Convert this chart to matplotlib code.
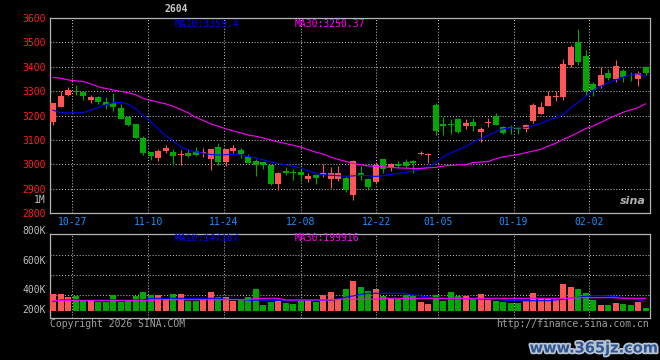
import matplotlib
matplotlib.use("Agg")
import matplotlib.pyplot as plt
import matplotlib.patheffects as pe
import matplotlib.transforms as mtrans
import numpy as np

# ---- data (80 trading days) ----
opens = [3172, 3234, 3286, 3301, 3298, 3263, 3275, 3257, 3250, 3229,
         3192, 3167, 3106, 3050, 3025, 3055, 3052, 3038, 3048, 3055,
         3048, 3023, 3072, 3010, 3055, 3057, 3030, 3014, 3010, 2997,
         2919, 2973, 2969, 2969, 2939, 2955, 2955, 2939, 2939, 2942,
         2874, 2964, 2939, 2928, 3021, 2987, 3000, 3010, 3014, 3044,
         3037, 3245, 3167, 3167, 3184, 3157, 3172, 3132, 3168, 3200,
         3154, 3152, 3150, 3146, 3177, 3208, 3241, 3277, 3276, 3408,
         3502, 3445, 3331, 3323, 3374, 3350, 3384, 3360, 3350, 3397]
highs = [3253, 3302, 3317, 3327, 3302, 3286, 3279, 3274, 3293, 3249,
         3196, 3167, 3116, 3052, 3064, 3078, 3061, 3057, 3064, 3072,
         3065, 3061, 3089, 3061, 3078, 3068, 3041, 3021, 3010, 3000,
         2970, 2987, 2980, 2980, 2964, 2960, 3000, 2987, 2993, 2950,
         3018, 2993, 2942, 3010, 3021, 3007, 3014, 3021, 3018, 3055,
         3048, 3250, 3195, 3184, 3189, 3187, 3188, 3154, 3189, 3211,
         3157, 3159, 3157, 3167, 3252, 3257, 3299, 3299, 3431, 3489,
         3555, 3469, 3336, 3397, 3391, 3429, 3391, 3378, 3381, 3401]
lows = [3159, 3234, 3279, 3286, 3263, 3250, 3248, 3225, 3218, 3184,
        3155, 3106, 3038, 3018, 3014, 3048, 2997, 2997, 3028, 3034,
        3028, 2977, 2996, 2991, 3046, 3024, 3006, 2953, 2980, 2915,
        2895, 2955, 2936, 2930, 2926, 2919, 2946, 2902, 2932, 2887,
        2853, 2935, 2894, 2925, 2966, 2973, 2983, 2983, 2966, 3037,
        3007, 3119, 3119, 3123, 3127, 3143, 3138, 3091, 3154, 3159,
        3123, 3123, 3123, 3132, 3170, 3208, 3238, 3258, 3265, 3399,
        3407, 3286, 3282, 3313, 3344, 3336, 3336, 3340, 3323, 3367]
closes = [3253, 3278, 3303, 3296, 3279, 3276, 3257, 3244, 3234, 3184,
          3163, 3106, 3045, 3034, 3053, 3066, 3032, 3041, 3034, 3037,
          3051, 3061, 3010, 3061, 3068, 3044, 3006, 2997, 2997, 2919,
          2966, 2963, 2963, 2955, 2950, 2942, 2964, 2964, 2964, 2895,
          3014, 2955, 2908, 2996, 2980, 3000, 2993, 2993, 3004, 3048,
          3041, 3136, 3155, 3159, 3132, 3170, 3157, 3143, 3172, 3162,
          3130, 3148, 3146, 3159, 3245, 3236, 3282, 3281, 3412, 3483,
          3420, 3299, 3306, 3367, 3354, 3404, 3358, 3356, 3374, 3374]
ma10 = [3222, 3211, 3211, 3211, 3211, 3222, 3233, 3244, 3252, 3254,
        3246, 3228, 3200, 3175, 3145, 3118, 3095, 3072, 3058, 3051,
        3046, 3040, 3038, 3039, 3041, 3037, 3032, 3026, 3018, 3010,
        3003, 2998, 2991, 2986, 2973, 2963, 2957, 2955, 2953, 2951,
        2952, 2955, 2953, 2950, 2953, 2958, 2963, 2967, 2971, 2980,
        2988, 3005, 3030, 3046, 3058, 3072, 3089, 3105, 3118, 3133,
        3145, 3149, 3150, 3150, 3158, 3167, 3180, 3191, 3204, 3230,
        3254, 3278, 3302, 3320, 3334, 3346, 3357, 3366, 3372, 3359]
ma30 = [3356, 3353, 3346, 3342, 3340, 3330, 3318, 3311, 3305, 3299,
        3293, 3286, 3270, 3262, 3255, 3248, 3238, 3225, 3211, 3193,
        3180, 3166, 3156, 3146, 3137, 3129, 3120, 3115, 3108, 3100,
        3092, 3085, 3078, 3071, 3060, 3050, 3042, 3030, 3020, 3012,
        3004, 2998, 2993, 2991, 2990, 2987, 2985, 2984, 2983, 2983,
        2985, 2987, 2992, 2996, 2997, 2998, 3007, 3009, 3011, 3022,
        3030, 3035, 3040, 3047, 3054, 3061, 3074, 3086, 3101, 3115,
        3130, 3146, 3157, 3171, 3186, 3200, 3213, 3223, 3232, 3248]
volume = [170, 170, 137, 150, 110, 110, 93, 93, 160, 93,
          110, 150, 193, 160, 160, 120, 170, 170, 100, 100,
          110, 193, 137, 137, 103, 120, 137, 220, 60, 93,
          103, 83, 67, 110, 110, 93, 160, 193, 117, 220,
          300, 240, 200, 220, 153, 120, 120, 160, 153, 93,
          70, 160, 100, 190, 153, 153, 120, 170, 120, 100,
          93, 80, 80, 100, 180, 120, 120, 120, 270, 240,
          220, 180, 113, 60, 60, 80, 70, 60, 90, 30]
vol_ma10 = [93, 110, 110, 110, 110, 110, 110, 110, 110, 110,
            110, 110, 110, 127, 127, 127, 127, 127, 127, 127,
            127, 127, 127, 117, 117, 117, 108, 108, 108, 108,
            108, 108, 108, 108, 108, 108, 108, 108, 120, 137,
            150, 165, 177, 177, 177, 177, 177, 177, 160, 150,
            140, 133, 127, 123, 123, 123, 123, 120, 115, 115,
            110, 103, 103, 103, 103, 103, 103, 110, 117, 127,
            137, 145, 153, 152, 150, 143, 135, 127, 110, 93]
vol_ma30 = [103, 103, 103, 103, 103, 103, 103, 103, 103, 103,
            103, 103, 103, 103, 113, 113, 113, 113, 113, 113,
            113, 113, 113, 113, 113, 113, 113, 127, 127, 127,
            127, 110, 110, 110, 110, 110, 110, 110, 118, 118,
            118, 118, 118, 118, 127, 127, 127, 127, 127, 127,
            127, 127, 127, 127, 127, 127, 127, 127, 127, 127,
            127, 127, 127, 127, 127, 127, 127, 127, 127, 127,
            133, 133, 133, 133, 133, 133, 127, 127, 127, 127]
date_pos = [2.57, 12.7, 22.8, 33.0, 43.1, 51.3, 61.4, 71.5]
date_labels = ["10-27", "11-10", "11-24", "12-08", "12-22", "01-05", "01-19", "02-02"]
price_ticks = [2800, 2900, 3000, 3100, 3200, 3300, 3400, 3500, 3600]
vol_grid = [160000, 360000, 560000]
vol_label_pos = [800000, 500000, 210000, 10000]
vol_labels = ["800K", "600K", "400K", "200K"]

W, H = 660, 360
RED, GREEN = "#FF5555", "#00A800"
FRAME, GRID = "#B4B4B4", "#C8C8C8"
MONO = "DejaVu Sans Mono"


def px(x, y):
    return x / W, 1 - y / H


fig = plt.figure(figsize=(W / 100, H / 100), dpi=100, facecolor="black")
ax = fig.add_axes([50 / W, 1 - 213 / H, 600 / W, 195 / H], facecolor="black")
axv = fig.add_axes([50 / W, 1 - 318 / H, 600 / W, 84 / H], facecolor="black")

o = np.array(opens, float)
c = np.array(closes, float)
idx = np.arange(len(o))
up = c >= o
cols = np.where(up, RED, GREEN)

for a in (ax, axv):
    a.set_xlim(-0.4, 79.6)
    for s in a.spines.values():
        s.set_color(FRAME)
        s.set_linewidth(0.9)
    a.set_xticks(date_pos)
    a.grid(True, color=GRID, linestyle=(0, (1, 2)), linewidth=0.7)
    a.set_axisbelow(True)
    a.tick_params(length=0)

# main candles
ax.vlines(idx, lows, highs, colors=cols, linewidth=0.8, zorder=2)
ax.bar(idx, np.maximum(np.abs(c - o), 4), bottom=np.minimum(o, c), width=0.8,
       color=cols, linewidth=0, zorder=3)
ax.plot(idx, ma10, color="#0000FF", lw=0.8, zorder=4)
ax.plot(idx, ma30, color="#FF00FF", lw=0.8, zorder=4)
ax.set_ylim(2800, 3600)
ax.set_yticks(price_ticks)
ax.set_yticklabels([str(t) for t in price_ticks], color="#FF2020", fontsize=7, family=MONO)
ax.tick_params(axis="y", pad=3)
ax.set_xticklabels(date_labels, color="#1E90FF", fontsize=7, family=MONO)
ax.tick_params(axis="x", pad=3)

# volume
axv.bar(idx, np.array(volume) * 1000, width=0.8, color=cols, linewidth=0, zorder=3)
axv.plot(idx, np.array(vol_ma10) * 1000, color="#0000FF", lw=0.8, zorder=4)
axv.plot(idx, np.array(vol_ma30) * 1000, color="#FF00FF", lw=0.8, zorder=4)
axv.set_ylim(-70000, 770000)
axv.set_yticks(vol_grid)
axv.set_yticklabels([])
axv.set_xticklabels([])
tr = mtrans.blended_transform_factory(fig.transFigure, axv.transData)
for v, lab in zip(vol_label_pos, vol_labels):
    fig.text(46 / W, v, lab, transform=tr, ha="right", va="center",
             color="#BEBEBE", fontsize=7, family=MONO)

# texts
fig.text(*px(176, 9.5), "2604", ha="center", va="center", color="#C8C8C8",
         fontsize=7, family=MONO, fontweight="bold")
fig.text(*px(175, 24), "MA10:3359.4", ha="left", va="center", color="#0000FF",
         fontsize=7, family=MONO)
fig.text(*px(295, 24), "MA30:3250.37", ha="left", va="center", color="#FF00FF",
         fontsize=7, family=MONO)
fig.text(*px(175, 238), "MA10:147167", ha="left", va="center", color="#0000FF",
         fontsize=7, family=MONO)
fig.text(*px(295, 238), "MA30:199916", ha="left", va="center", color="#FF00FF",
         fontsize=7, family=MONO)
fig.text(*px(46, 200), "1M", ha="right", va="center", color="#BEBEBE",
         fontsize=7, family=MONO)
fig.text(*px(50, 324), "Copyright 2026 SINA.COM", ha="left", va="center",
         color="#A0A0A0", fontsize=7, family=MONO)
fig.text(*px(649, 324), "http://finance.sina.com.cn", ha="right", va="center",
         color="#A0A0A0", fontsize=7, family=MONO)
fig.text(*px(633, 201), "sina", ha="center", va="center", color="#B0B0B0",
         fontsize=8, fontweight="bold", style="italic")
wm = fig.text(*px(594, 348), "www.365jz.com", ha="center", va="center",
              color="#2F5690", fontsize=10.5, fontweight="bold")
wm.set_path_effects([pe.withStroke(linewidth=2.5, foreground="#B8C4D4")])

fig.savefig("out.png", dpi=100, facecolor="black")
